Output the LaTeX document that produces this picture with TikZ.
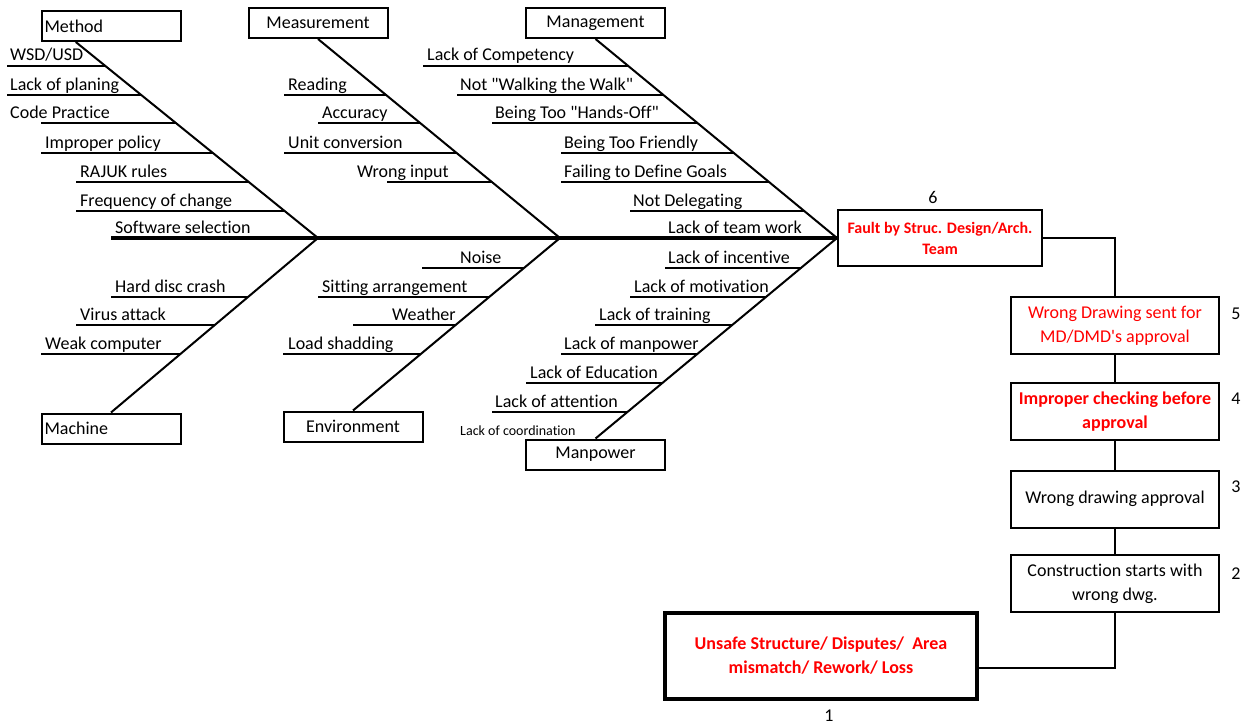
\documentclass[tikz,border=0pt]{standalone}
\usepackage{fontspec}
\setmainfont{Carlito}[Ligatures={TeXOff,CommonOff}]
\usetikzlibrary{calc}
\definecolor{alarm}{RGB}{255,0,0}

% one cause: a horizontal twig ending on its bone, with its label above it
% #1 node name, #2 bone start, #3 bone end, #4 twig start x, #5 twig y, #6 label x, #7 label
\newcommand\cause[7]{%
  \draw[twig] (#4,#5) -- (intersection of #2--#3 and 0,#5--10,#5);
  \node[lbl] (#1) at (#6,#5-5) {#7};
}

\begin{document}
\begin{tikzpicture}[x=1pt,y=-1pt,
  lbl/.style={anchor=base west,inner sep=0pt,font=\fontsize{18}{20}\selectfont},
  twig/.style={line width=1.8pt},
  bone/.style={line width=2pt},
  spine/.style={line width=3.6pt},
  link/.style={line width=2pt},
  catbox/.style={draw,line width=2pt,minimum width=139pt,minimum height=30pt,
    inner sep=0pt,font=\fontsize{18}{20}\selectfont},
  flowbox/.style={draw,line width=2pt,minimum width=208pt,minimum height=57pt,
    inner sep=0pt,align=center,font=\fontsize{18}{24}\selectfont},
  num/.style={inner sep=0pt,font=\fontsize{18}{20}\selectfont},
]
\useasboundingbox (0,0) rectangle (1253,725);

% category boxes
\node[catbox,text width=133pt,align=left,yshift=-3pt] (method) at (111,23) {Method};
\node[catbox] (measurement) at (318,23) {Measurement};
\node[catbox] (management) at (595.5,23) {Management};
\node[catbox,text width=133pt,align=left,yshift=-2pt] (machine) at (111,426.5) {Machine};
\node[catbox] (environment) at (353,426.5) {Environment};
\node[catbox] (manpower) at (595.5,454.5) {Manpower};

% effect chain
\node[flowbox,minimum width=204pt,minimum height=56pt,text=alarm,
  font=\bfseries\fontsize{16}{21}\selectfont] (fault) at (940,238)
  {Fault by Struc. Design/Arch.\\Team};
\node[flowbox,text=alarm] (b5) at (1115,325.5) {Wrong Drawing sent for\\MD/DMD's approval};
\node[flowbox,text=alarm,font=\bfseries\fontsize{18}{24}\selectfont] (b4) at (1115,411.5)
  {Improper checking before\\approval};
\node[flowbox] (b3) at (1115,499) {Wrong drawing approval};
\node[flowbox] (b2) at (1115,583.5) {Construction starts with\\wrong dwg.};
\node[flowbox,minimum width=312pt,minimum height=86pt,line width=3.5pt,text=alarm,
  font=\bfseries\fontsize{18}{24}\selectfont] (res) at (821,656)
  {Unsafe Structure/ Disputes/\ \ Area\\mismatch/ Rework/ Loss};

\node[num] (n6) at (933,197) {6};
\node[num] (n5) at (1236,314) {5};
\node[num] (n4) at (1236,399) {4};
\node[num] (n3) at (1236,487) {3};
\node[num] (n2) at (1236,574) {2};
\node[num] (n1) at (829,716) {1};

\draw[link] (fault.east) -| (b5.north);
\draw[link] (b5.south) -- (b4.north);
\draw[link] (b4.south) -- (b3.north);
\draw[link] (b3.south) -- (b2.north);
\draw[link] (b2.south) |- ($(res.east)+(0,12)$);

% bones
\coordinate (mt) at ($(method.south west)!0.25!(method.south east)$);
\coordinate (st) at (measurement.south);
\coordinate (gt) at (management.south);
\coordinate (ct) at (machine.north);
\coordinate (et) at (environment.north);
\coordinate (pt) at (manpower.north);
\coordinate (j1) at (318,238);
\coordinate (j2) at (560,238);
\coordinate (j3) at (fault.west);
\coordinate (tail) at (111,238);

\draw[bone] (mt) -- (j1);
\draw[bone] (ct) -- (j1);
\draw[bone] (st) -- (j2);
\draw[bone] (et) -- (j2);
\draw[bone] (gt) -- (j3);
\draw[bone] (pt) -- (j3);
\draw[spine] (tail) -- (j3);

% Method
\cause{m1}{mt}{j1}{7}{66}{10}{WSD/USD}
\cause{m2}{mt}{j1}{7}{95}{10}{Lack of planing}
\cause{m3}{mt}{j1}{41}{123}{10}{Code Practice}
\cause{m4}{mt}{j1}{41}{153}{45}{Improper policy}
\cause{m5}{mt}{j1}{76}{182}{80}{RAJUK rules}
\cause{m6}{mt}{j1}{76}{211}{80}{Frequency of change}
\node[lbl] (m7) at (115,233) {Software selection};

% Measurement
\cause{s1}{st}{j2}{284}{95}{288}{Reading}
\cause{s2}{st}{j2}{318}{123}{322}{Accuracy}
\cause{s3}{st}{j2}{284}{153}{288}{Unit conversion}
\cause{s4}{st}{j2}{387}{182}{357}{Wrong input}

% Management
\cause{g1}{gt}{j3}{423}{66}{427}{Lack of Competency}
\cause{g2}{gt}{j3}{457}{95}{460}{Not "Walking the Walk"}
\cause{g3}{gt}{j3}{492}{123}{495}{Being Too "Hands-Off"}
\cause{g4}{gt}{j3}{561}{153}{564}{Being Too Friendly}
\cause{g5}{gt}{j3}{561}{182}{564}{Failing to Define Goals}
\cause{g6}{gt}{j3}{630}{211}{633}{Not Delegating}
\node[lbl] (g7) at (668,233) {Lack of team work};

% Machine
\cause{c1}{ct}{j1}{111}{297}{115}{Hard disc crash}
\cause{c2}{ct}{j1}{76}{325}{80}{Virus attack}
\cause{c3}{ct}{j1}{41}{354}{45}{Weak computer}

% Environment
\cause{e1}{et}{j2}{422}{268}{460}{Noise}
\cause{e2}{et}{j2}{318}{297}{322}{Sitting arrangement}
\cause{e3}{et}{j2}{353}{325}{392}{Weather}
\cause{e4}{et}{j2}{283}{354}{288}{Load shadding}

% Manpower
\cause{p1}{pt}{j3}{665}{268}{668}{Lack of incentive}
\cause{p2}{pt}{j3}{630}{297}{634}{Lack of motivation}
\cause{p3}{pt}{j3}{595}{325}{599}{Lack of training}
\cause{p4}{pt}{j3}{561}{354}{564}{Lack of manpower}
\cause{p5}{pt}{j3}{526}{383}{530}{Lack of Education}
\cause{p6}{pt}{j3}{492}{412}{495}{Lack of attention}
\node[lbl,font=\fontsize{14}{16}\selectfont] (p7) at (460,435) {Lack of coordination};
\end{tikzpicture}
\end{document}
